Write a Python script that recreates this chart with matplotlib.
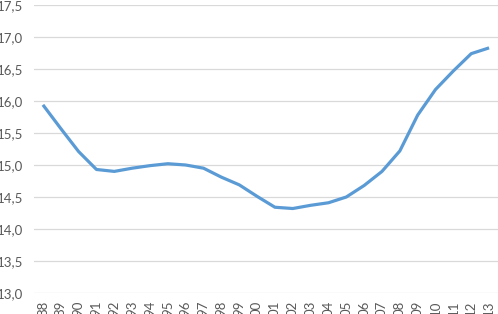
import numpy as np
import matplotlib.pyplot as plt

# Years (two-digit labels) and values
years = ['88', '89', '90', '91', '92', '93', '94', '95', '96', '97', '98', '99',
         '00', '01', '02', '03', '04', '05', '06', '07', '08', '09', '10', '11',
         '12', '13']
values = [15.94, 15.57, 15.21, 14.93, 14.90, 14.95, 14.99, 15.02, 15.00, 14.95,
          14.81, 14.69, 14.51, 14.34, 14.32, 14.37, 14.41, 14.50, 14.68, 14.90,
          15.22, 15.78, 16.18, 16.47, 16.74, 16.83]
yticks = [13.0, 13.5, 14.0, 14.5, 15.0, 15.5, 16.0, 16.5, 17.0, 17.5]

plt.rcParams['font.family'] = ['Lato', 'DejaVu Sans']

fig = plt.figure(figsize=(4.98, 3.14), dpi=100)
ax = fig.add_axes([34/498, 21/314, 1 - 34/498, 288/314])

x = np.arange(len(years))
ax.plot(x, values, color='#5B9BD5', linewidth=2.3, solid_capstyle='butt')

ax.set_xlim(-0.5, len(years) - 0.5)
ax.set_ylim(13.0, 17.5)
ax.set_yticks(yticks)
ax.set_yticklabels([('%.1f' % v).replace('.', ',') for v in yticks])
ax.set_xticks(x)
ax.set_xticklabels(years, rotation=90, va='top')

ax.grid(axis='y', color='#D9D9D9', linewidth=0.9)
ax.set_axisbelow(True)
for s in ax.spines.values():
    s.set_visible(False)
ax.tick_params(axis='both', length=0, colors='#595959', labelsize=9.5)
ax.tick_params(axis='y', pad=8)
ax.tick_params(axis='x', pad=5.5)

fig.savefig('out.png', dpi=100)
